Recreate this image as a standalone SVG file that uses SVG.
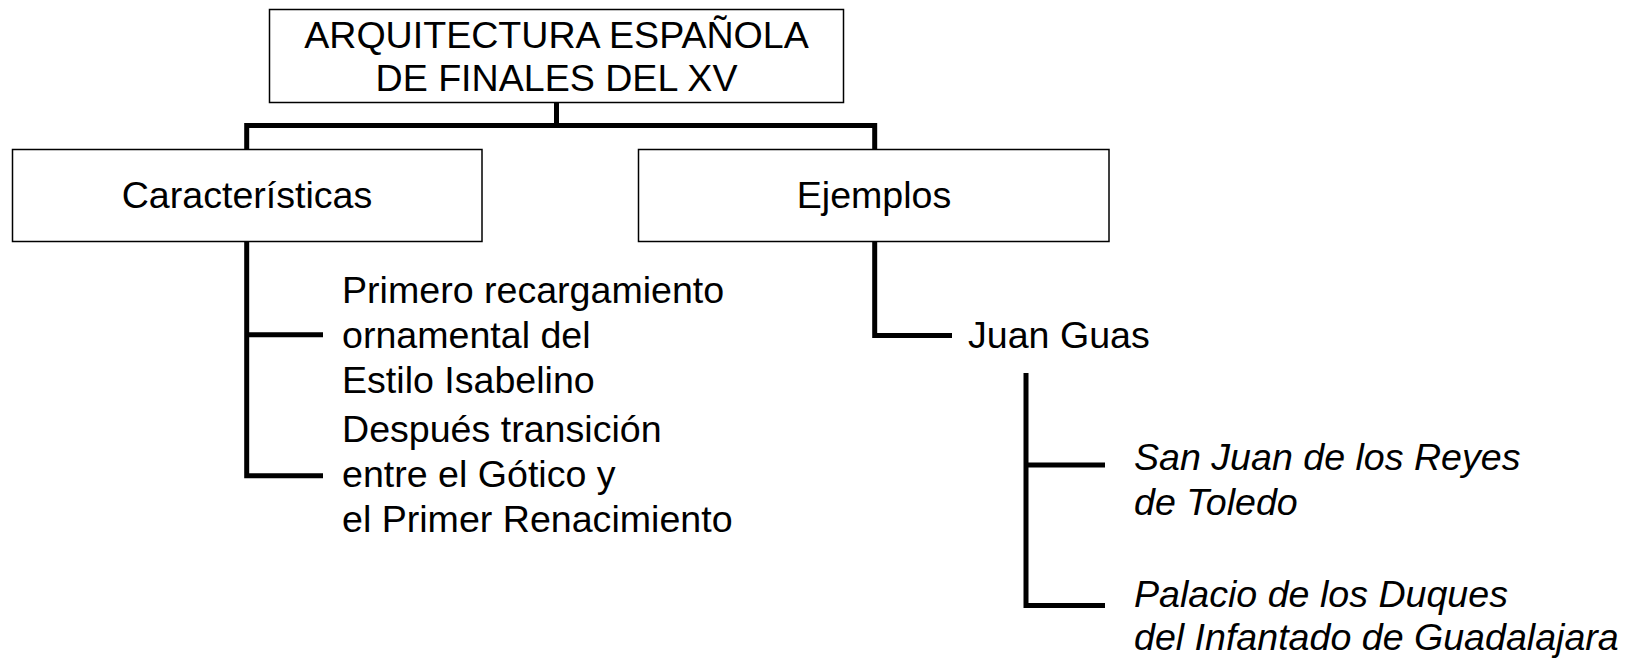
<svg xmlns="http://www.w3.org/2000/svg" width="1625" height="660" viewBox="0 0 1625 660">
<style>
.box{fill:#fff;stroke:#000;stroke-width:1.5}
.t{font-family:"Liberation Sans",Arial,sans-serif;font-size:37.6px;fill:#000}
.c{text-anchor:middle}
.i{font-style:italic}
.con{fill:none;stroke:#000;stroke-width:5}
</style>
<rect width="1625" height="660" fill="#fff"/>
<g id="connectors">
<path class="con" d="M556.5,102.6V125.5M246.7,125.5H874.7M246.7,123V149M874.7,123V149"/>
<path class="con" d="M246.7,241.5V475.7M244.2,334.8H323M244.2,475.7H323"/>
<path class="con" d="M874.7,241.5V335.5H952"/>
<path class="con" d="M1026,373V605.5M1023.5,465H1105M1023.5,605.5H1105"/>
</g>
<g id="n-title">
<rect class="box" x="269.5" y="9.5" width="574" height="93"/>
<text class="t c" x="556.5" y="48">ARQUITECTURA ESPAÑOLA</text>
<text class="t c" x="556.5" y="91">DE FINALES DEL XV</text>
</g>
<g id="n-caracteristicas">
<rect class="box" x="12.5" y="149.5" width="469.5" height="92"/>
<text class="t c" x="247" y="208">Características</text>
</g>
<g id="n-ejemplos">
<rect class="box" x="638.5" y="149.5" width="470.5" height="92"/>
<text class="t c" x="874" y="208">Ejemplos</text>
</g>
<g id="n-primero">
<text class="t" x="342" y="303">Primero recargamiento</text>
<text class="t" x="342" y="348">ornamental del</text>
<text class="t" x="342" y="393">Estilo Isabelino</text>
</g>
<g id="n-despues">
<text class="t" x="342" y="442">Después transición</text>
<text class="t" x="342" y="487">entre el Gótico y</text>
<text class="t" x="342" y="532">el Primer Renacimiento</text>
</g>
<g id="n-juanguas">
<text class="t" x="968" y="348">Juan Guas</text>
</g>
<g id="n-sanjuan">
<text class="t i" x="1134" y="470">San Juan de los Reyes</text>
<text class="t i" x="1134" y="515">de Toledo</text>
</g>
<g id="n-palacio">
<text class="t i" x="1134" y="607">Palacio de los Duques</text>
<text class="t i" x="1134" y="650">del Infantado de Guadalajara</text>
</g>
</svg>
